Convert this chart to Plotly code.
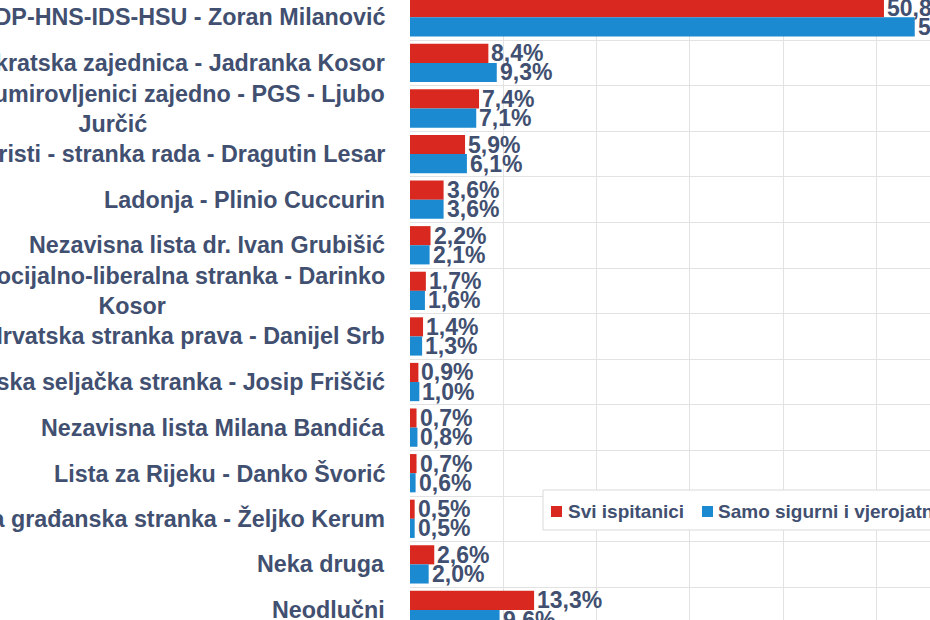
import plotly.graph_objects as go

# poll results (%), two respondent groups
categories = [
    "SDP-HNS-IDS-HSU - Zoran Milanović",
    "Hrvatska demokratska zajednica - Jadranka Kosor",
    "Hrvatski blok umirovljenici zajedno - PGS - Ljubo<br>Jurčić",
    "Hrvatski laburisti - stranka rada - Dragutin Lesar",
    "Ladonja - Plinio Cuccurin",
    "Nezavisna lista dr. Ivan Grubišić",
    "Hrvatska socijalno-liberalna stranka - Darinko<br>Kosor",
    "Hrvatska stranka prava - Danijel Srb",
    "Hrvatska seljačka stranka - Josip Friščić",
    "Nezavisna lista Milana Bandića",
    "Lista za Rijeku - Danko Švorić",
    "Hrvatska građanska stranka - Željko Kerum",
    "Neka druga",
    "Neodlučni",
]
svi_ispitanici = [50.8, 8.4, 7.4, 5.9, 3.6, 2.2, 1.7, 1.4, 0.9, 0.7, 0.7, 0.5, 2.6, 13.3]
sigurni = [54.1, 9.3, 7.1, 6.1, 3.6, 2.1, 1.6, 1.3, 1.0, 0.8, 0.6, 0.5, 2.0, 9.6]
series_names = ["Svi ispitanici", "Samo sigurni i vjerojatni birači"]

RED = "#d8281f"
BLUE = "#1b8ad1"
TXT = "#414f70"
FONT = "Liberation Sans, Arial, sans-serif"

W, H = 930, 620
ML = 410
BARGAP = 0.16


def px_x(p):
    # pixel -> paper x
    return (p - ML) / (W - ML)


def px_y(p):
    return 1 - p / H


fig = go.Figure()
series = [(series_names[0], svi_ispitanici, RED), (series_names[1], sigurni, BLUE)]
for name, vals, col in series:
    fig.add_trace(go.Bar(
        y=categories, x=vals, orientation="h", name=name,
        marker=dict(color=col, line=dict(width=0)),
        showlegend=False, cliponaxis=True,
    ))

# data labels (comma decimals), placed at the centre of each bar of the pair
half = (1 - BARGAP) / 4
for k, (name, vals, col) in enumerate(series):
    for i, v in enumerate(vals):
        fig.add_annotation(
            x=v, xref="x", y=i + (half if k else -half), yref="y",
            text="<b>%s%%</b>" % ("%.1f" % v).replace(".", ","),
            xanchor="left", yanchor="middle", xshift=1, showarrow=False,
            font=dict(family=FONT, size=23, color=TXT),
        )

# category labels, centred lines like the original
for c in categories:
    fig.add_annotation(
        x=0, xref="paper", y=c, yref="y", text="<b>%s</b>" % c,
        xanchor="right", xshift=-23, align="center", showarrow=False,
        font=dict(family=FONT, size=23.3, color=TXT),
    )

# hand-made legend (it runs off the right edge in the reference)
fig.add_shape(type="rect", xref="paper", yref="paper",
              x0=px_x(543), x1=px_x(1100), y0=px_y(530), y1=px_y(490),
              fillcolor="white", line=dict(color="#d9d9d9", width=1), layer="above")
legend_items = [(series_names[0], RED, 551, 566), (series_names[1], BLUE, 702, 716)]
for name, col, sq, tx in legend_items:
    fig.add_shape(type="rect", xref="paper", yref="paper",
                  x0=px_x(sq), x1=px_x(sq + 11), y0=px_y(517), y1=px_y(506),
                  fillcolor=col, line=dict(width=0), layer="above")
    fig.add_annotation(x=px_x(tx), xref="paper", y=px_y(511), yref="paper",
                       text="<b>%s</b>" % name, xanchor="left", yanchor="middle",
                       showarrow=False, font=dict(family=FONT, size=19, color=TXT))

fig.update_layout(
    width=W, height=H,
    margin=dict(l=ML, r=0, t=0, b=0),
    barmode="group", bargap=BARGAP, bargroupgap=0,
    plot_bgcolor="white", paper_bgcolor="white",
    xaxis=dict(range=[0, (W - ML) / 9.33], dtick=10, showgrid=True, gridcolor="#e2e2e2",
               gridwidth=1, zeroline=False, showticklabels=False, showline=False),
    yaxis=dict(range=[13.22, -0.38], showticklabels=False, showgrid=True,
               tickson="boundaries", gridcolor="#e2e2e2", ticks="", showline=False),
)

# drop the browser's default 8px page margin so the chart sits flush like the crop
fig.write_html("out.html", config={"displayModeBar": False},
               post_script="document.body.style.margin='0';")
